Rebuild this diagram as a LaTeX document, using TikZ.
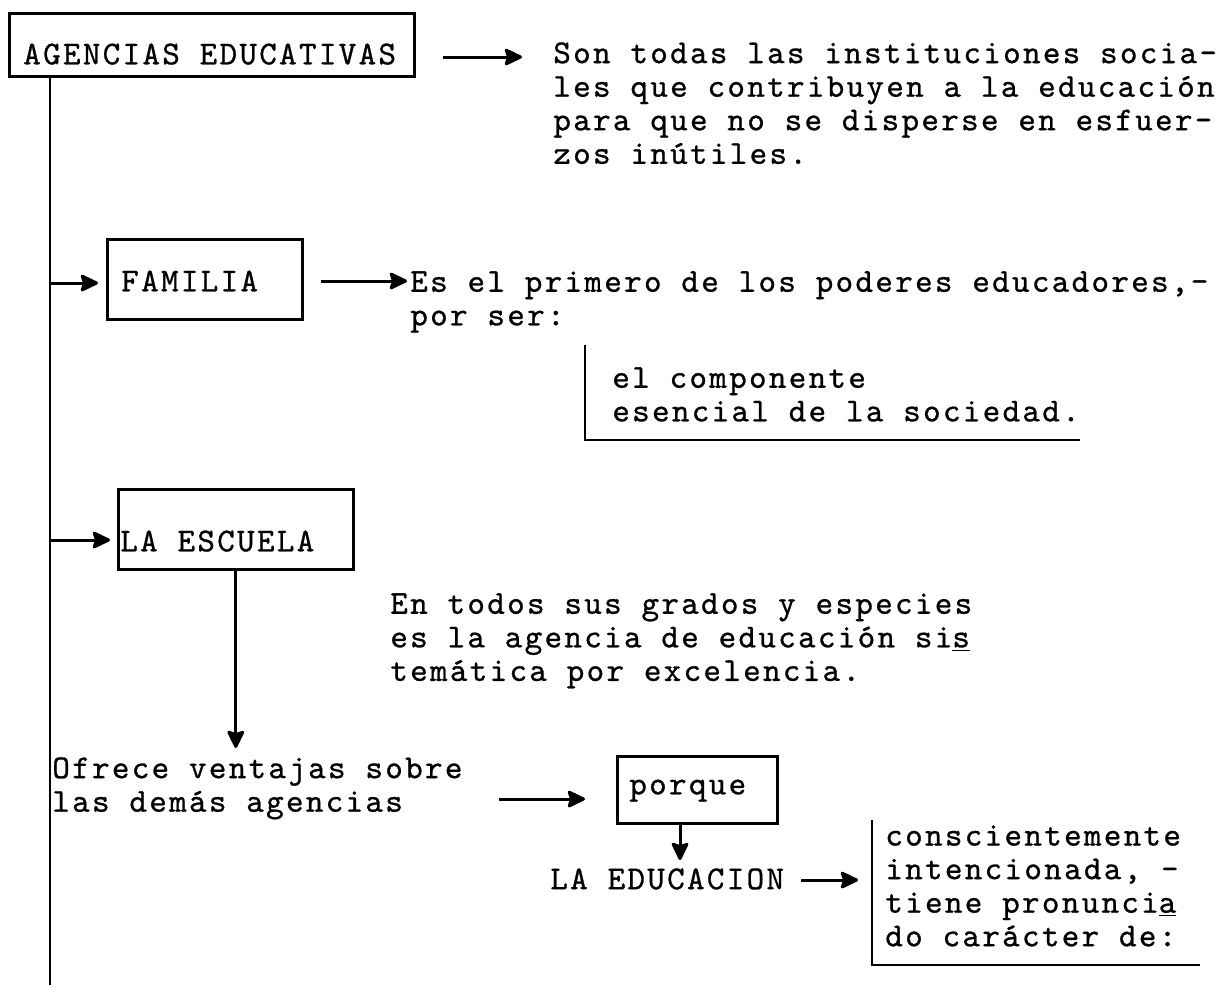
\documentclass[tikz,border=0pt]{standalone}
\usepackage{fontspec}
\usepackage{tikz}
\usetikzlibrary{arrows.meta}

\newfontfamily\typefont{lmmono10-regular.otf}[LetterSpace=7, FakeBold=0.8]
\newcommand{\typed}{\typefont\fontsize{19pt}{19.1pt}\selectfont}

\tikzset{
	box/.style={draw, line width=1.5pt, anchor=north west, inner ysep=0pt},
	txt/.style={anchor=north west, align=left, inner sep=0pt},
	wire/.style={line width=1.2pt},
	arr/.style={line width=1.7pt, -{Stealth[length=0.4cm, width=0.38cm, inset=0.06cm, round]}}
}

\begin{document}
\begin{tikzpicture}[x=0.02cm, y=-0.02cm, font=\typed]
			\useasboundingbox (0,0) rectangle (1229,992);
			
			% Agencias box
			\node[box, inner xsep=0.28cm, text height=1.02cm, text depth=0.24cm] (agencias) at (8,12) {\makebox[7.54cm][l]{AGENCIAS EDUCATIVAS}};
			\node[txt] (soninfo) at (553,42) {Son todas las instituciones socia-\\les que contribuyen a la educación\\para que no se disperse en esfuer-\\zos inútiles.};
			
			% Trunk line
			\coordinate (trunktop) at (agencias.south -| 50,0);
			\coordinate (trunkend) at (50,985);
			\draw[wire] (trunktop) -- (trunkend);
			
			% Familia box
			\node[box, inner xsep=0.28cm, text height=1.04cm, text depth=0.56cm] (familia) at (106,238) {\makebox[3.34cm][l]{FAMILIA}};
			\node[txt] (primero) at (410,271) {Es el primero de los poderes educadores,-\\por ser:};
			\node[txt] (componente) at (612,367) {el componente\\esencial de la sociedad.};
			\draw[wire] (585,345) -- (585,440) -- (1080,440); % bracket
			
			% La escuela box
			\node[box, inner xsep=0.04cm, text height=1.24cm, text depth=0.36cm] (escuela) at (117,488) {\makebox[4.62cm][l]{LA ESCUELA}};
			\node[txt] (sistematica) at (390,593) {En todos sus grados y especies\\es la agencia de educación si\underline{s}\\temática por excelencia.};
			\node[txt] (ventajas) at (52,757) {Ofrece ventajas sobre\\las demás agencias};
			
			% Porque box
			\node[box, inner xsep=0.24cm, text height=0.76cm, text depth=0.58cm] (porque) at (616,755) {\makebox[2.72cm][l]{porque}};
			\node[txt] (educacion) at (550,868) {LA EDUCACION};
			\node[txt] (caracter) at (885,825) {conscientemente\\intencionada, -\\tiene pronunci\underline{a}\\do carácter de:};
			\draw[wire] (872,820) -- (872,965) -- (1200,965); % bracket
			
			% Connecting lines
			\draw[arr, shorten <=0.54cm, shorten >=0.62cm] (agencias.east |- 0,57) -- (soninfo.west |- 0,57);
			\draw[arr, shorten >=0.16cm] (trunktop |- 0,283) -- (familia.west |- 0,283);
			\draw[arr, shorten <=0.34cm, shorten >=0.06cm] (familia.east |- 0,281) -- (primero.west |- 0,281);
			\draw[arr, shorten >=0.14cm] (trunktop |- 0,540) -- (escuela.west |- 0,540);
			\draw[arr, shorten >=0.18cm] (escuela.south) -- (escuela.south |- ventajas.north);
			\draw[arr, shorten <=0.72cm, shorten >=0.62cm] (ventajas.east |- 0,799) -- (porque.west |- 0,799);
			\draw[arr, shorten >=0.16cm] (porque.south -| 680,0) -- (educacion.north -| 680,0);
			\draw[arr, shorten <=0.34cm, shorten >=0.54cm] (educacion.east |- 0,880) -- (caracter.west |- 0,880);
		\end{tikzpicture}
\end{document}
